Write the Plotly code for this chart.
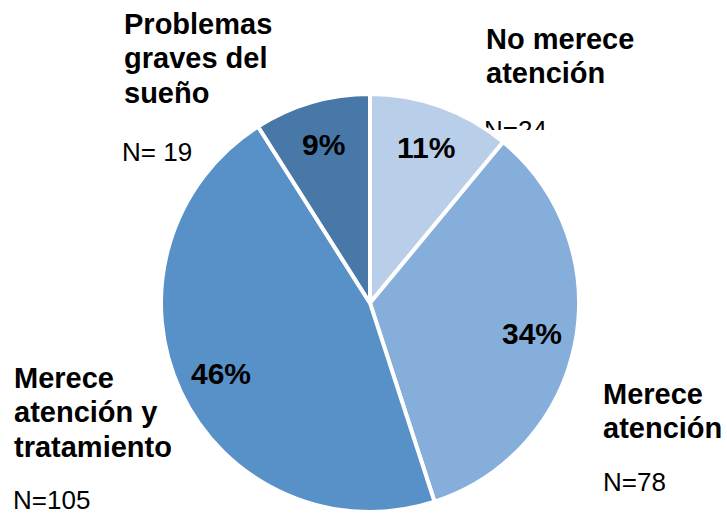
import math
import plotly.graph_objects as go

# Sleep-problem severity categories (clockwise from 12 o'clock)
categories = ["No merece atención", "Merece atención",
              "Merece atención y tratamiento", "Problemas graves del sueño"]
percentages = [11, 34, 46, 9]
counts = [24, 78, 105, 19]
colors = ["#B9CEE8", "#86AEDB", "#5791C7", "#4778A8"]

# Category caption, split into the lines it is drawn on
caption_lines = [
    ["No merece", "atención"],
    ["Merece", "atención"],
    ["Merece", "atención y", "tratamiento"],
    ["Problemas", "graves del", "sueño"],
]
count_text = ["N=24", "N=78", "N=105", "N= 19"]

W, H = 727, 516
FONT = "Liberation Sans, Arial, sans-serif"
CAP_SIZE, COUNT_SIZE, PCT_SIZE = 29, 26, 30
LINE_STEP = 34.5

# Pie geometry in pixels
cx, cy, R = 370, 303, 209

# caption anchors: (left x, first-line baseline y) in pixels
caption_pos = [(484, 48), (601, 403), (12, 387), (122, 33)]
count_pos = [None, (601, 490), (11, 508), (120, 160)]


def px(x):
    return x / W


def py(y):
    return 1 - y / H


def top_from_baseline(baseline, size):
    # annotation box top for a given text baseline
    return baseline - (0.905 * size + 1)


fig = go.Figure()

# The "N=24" caption is clipped at the bottom by its own plot area
fig.add_trace(go.Scatter(
    x=[484], y=[132], mode="text", text=[count_text[0]],
    textposition="middle right", cliponaxis=True,
    textfont=dict(family=FONT, size=COUNT_SIZE, color="#000000"),
    hoverinfo="skip", showlegend=False,
))

fig.add_trace(go.Pie(
    labels=categories,
    values=percentages,
    sort=False,
    direction="clockwise",
    rotation=0,
    marker=dict(colors=colors, line=dict(color="#FFFFFF", width=4)),
    textinfo="none",
    hoverinfo="label+percent",
    showlegend=False,
    domain=dict(x=[px(cx - R), px(cx + R)], y=[py(cy + R), py(cy - R)]),
))

annotations = []

# Percentage labels at each slice's mid-angle
total = sum(percentages)
cum = 0
for val in percentages:
    mid = (cum + val / 2) / total * 2 * math.pi
    cum += val
    lx = cx + 0.79 * R * math.sin(mid)
    ly = cy - 0.79 * R * math.cos(mid)
    annotations.append(dict(
        x=px(lx), y=py(ly), xref="paper", yref="paper",
        text=f"<b>{val}%</b>", showarrow=False,
        xanchor="center", yanchor="middle",
        font=dict(family=FONT, size=PCT_SIZE, color="#000000"),
    ))

for lines, (x, base) in zip(caption_lines, caption_pos):
    for i, line in enumerate(lines):
        annotations.append(dict(
            x=px(x), y=py(top_from_baseline(base + i * LINE_STEP, CAP_SIZE)),
            xref="paper", yref="paper",
            text=f"<b>{line}</b>", showarrow=False, align="left",
            xanchor="left", yanchor="top",
            font=dict(family=FONT, size=CAP_SIZE, color="#000000"),
        ))

for text, pos in zip(count_text, count_pos):
    if pos is None:
        continue
    x, base = pos
    annotations.append(dict(
        x=px(x), y=py(top_from_baseline(base, COUNT_SIZE)),
        xref="paper", yref="paper",
        text=text, showarrow=False, align="left",
        xanchor="left", yanchor="top",
        font=dict(family=FONT, size=COUNT_SIZE, color="#000000"),
    ))

fig.update_layout(
    width=W, height=H,
    margin=dict(l=0, r=0, t=0, b=0),
    paper_bgcolor="#FFFFFF",
    plot_bgcolor="rgba(0,0,0,0)",
    xaxis=dict(visible=False, range=[0, W], domain=[0, 1], fixedrange=True),
    yaxis=dict(visible=False, range=[130, 0], domain=[py(130), 1], fixedrange=True),
    annotations=annotations,
    showlegend=False,
)

fig.write_html("out.html")
